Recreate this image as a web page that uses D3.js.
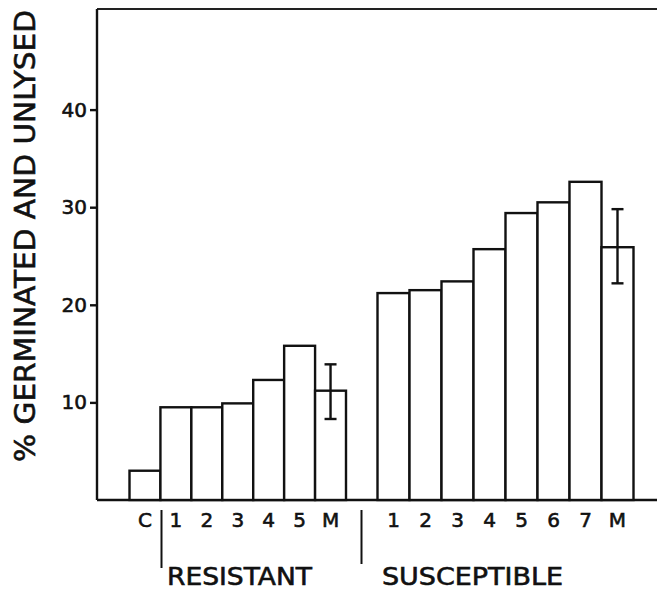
<html>
<style>
body { margin: 0; background: #fff; }
svg text { font-family: "DejaVu Sans", sans-serif; fill: #111; stroke: #111; stroke-width: 0.6px; }
.axis path, .axis line { stroke: #111; stroke-width: 2.4; }
</style>
<svg width="657" height="590"></svg>
<script src="https://d3js.org/d3.v7.min.js"></script>
<script>

// values (% germinated and unlysed)
var resistantCats = ["C", "1", "2", "3", "4", "5", "M"];
var resistantVals = [3.0, 9.5, 9.5, 9.9, 12.3, 15.8, 11.2];
var resistantErr = {M: [8.3, 13.9]};

var susceptibleCats = ["1", "2", "3", "4", "5", "6", "7", "M"];
var susceptibleVals = [21.2, 21.5, 22.4, 25.7, 29.4, 30.5, 32.6, 25.9];
var susceptibleErr = {M: [22.2, 29.8]};

var yTicks = [10, 20, 30, 40];

var svg = d3.select("svg"),
    plotLeft = 97, plotRight = 657, plotTop = 9, plotBottom = 500;

var y = d3.scaleLinear().domain([0, 10]).range([plotBottom, plotBottom - 97.6]);

var xR = d3.scaleBand().domain(resistantCats).range([129.5, 346]).padding(0);
var xS = d3.scaleBand().domain(susceptibleCats).range([377.5, 633.5]).padding(0);

// frame: top line, left axis, bottom axis
svg.append("line")
    .attr("x1", plotLeft).attr("x2", plotRight).attr("y1", plotTop).attr("y2", plotTop)
    .attr("stroke", "#222").attr("stroke-width", 2.2);
svg.append("line")
    .attr("x1", plotLeft).attr("x2", plotRight).attr("y1", plotBottom).attr("y2", plotBottom)
    .attr("stroke", "#111").attr("stroke-width", 2.4);

var yAxis = svg.append("g")
    .attr("class", "axis")
    .attr("transform", "translate(" + plotLeft + ",0)")
    .call(d3.axisLeft(y).tickValues(yTicks).tickSize(7).tickPadding(3).tickSizeOuter(0));
yAxis.select(".domain").attr("d", "M0," + plotTop + "V" + plotBottom);
yAxis.selectAll("text").style("font-size", "20px").attr("fill", "#111");

function drawGroup(cats, vals, err, x) {
    var g = svg.append("g");
    g.selectAll("rect")
        .data(cats)
        .join("rect")
        .attr("x", d => x(d))
        .attr("width", x.bandwidth())
        .attr("y", (d, i) => y(vals[i]))
        .attr("height", (d, i) => plotBottom - y(vals[i]))
        .attr("fill", "white")
        .attr("stroke", "#111")
        .attr("stroke-width", 2.4);

    Object.keys(err).forEach(function(k) {
        var cx = x(k) + x.bandwidth() / 2, lo = err[k][0], hi = err[k][1];
        g.append("line").attr("x1", cx).attr("x2", cx)
            .attr("y1", y(lo)).attr("y2", y(hi))
            .attr("stroke", "#111").attr("stroke-width", 2.4);
        [lo, hi].forEach(function(v) {
            g.append("line").attr("x1", cx - 6).attr("x2", cx + 6)
                .attr("y1", y(v)).attr("y2", y(v))
                .attr("stroke", "#111").attr("stroke-width", 2.4);
        });
    });

    g.selectAll("text.cat")
        .data(cats)
        .join("text")
        .attr("class", "cat")
        .attr("x", d => x(d) + x.bandwidth() / 2)
        .attr("y", 527)
        .attr("text-anchor", "middle")
        .style("font-size", "20px")
        .text(d => d);
}

drawGroup(resistantCats, resistantVals, resistantErr, xR);
drawGroup(susceptibleCats, susceptibleVals, susceptibleErr, xS);

// group dividers and labels
[[161.5, 568], [361.5, 564]].forEach(function(d) {
    svg.append("line")
        .attr("x1", d[0]).attr("x2", d[0]).attr("y1", 510).attr("y2", d[1])
        .attr("stroke", "#111").attr("stroke-width", 2);
});

svg.append("text")
    .attr("x", 167).attr("y", 585)
    .attr("textLength", 145).attr("lengthAdjust", "spacingAndGlyphs")
    .style("font-size", "24px")
    .text("RESISTANT");

svg.append("text")
    .attr("x", 382).attr("y", 585)
    .attr("textLength", 181).attr("lengthAdjust", "spacingAndGlyphs")
    .style("font-size", "24px")
    .text("SUSCEPTIBLE");

// y axis title
svg.append("text")
    .attr("transform", "translate(35,236) rotate(-90)")
    .attr("text-anchor", "middle")
    .attr("textLength", 452).attr("lengthAdjust", "spacingAndGlyphs")
    .style("font-size", "28px")
    .text("% GERMINATED AND UNLYSED");

</script>
</html>
